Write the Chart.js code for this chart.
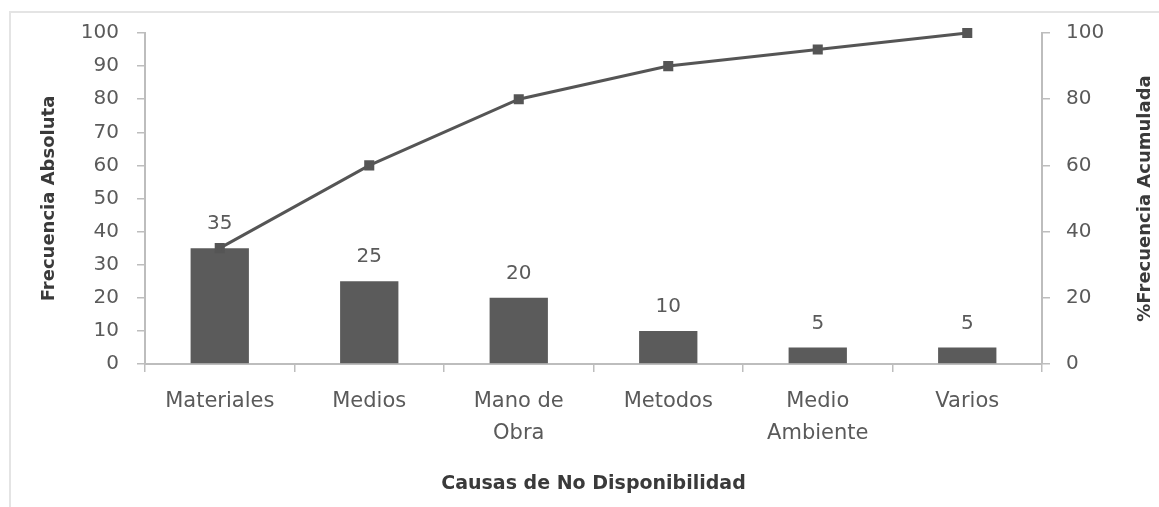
<!DOCTYPE html>
<html>
<head>
<meta charset="utf-8">
<script src="https://cdn.jsdelivr.net/npm/chart.js@4.4.1/dist/chart.umd.min.js"></script>
<style>
html,body{margin:0;padding:0;background:#fff;}
#wrap{position:relative;width:1159px;height:507px;overflow:hidden;}
#frame{position:absolute;left:9px;top:11px;width:1200px;height:600px;border-top:2px solid #e4e4e4;border-left:2px solid #e4e4e4;}
canvas{position:absolute;left:0;top:0;}
</style>
</head>
<body>
<div id="wrap"><div id="frame"></div><canvas id="c" width="1159" height="507"></canvas></div>
<script>
const categories = ["Materiales", "Medios", ["Mano de", "Obra"], "Metodos", ["Medio", "Ambiente"], "Varios"];
const frecuenciaAbsoluta = [35, 25, 20, 10, 5, 5];
const frecuenciaAcumulada = [35, 60, 80, 90, 95, 100];
const leftTicks = [0, 10, 20, 30, 40, 50, 60, 70, 80, 90, 100];
const rightTicks = [0, 20, 40, 60, 80, 100];
const rightTitle = '%Frecuencia Acumulada';

const FONT = "'DejaVu Sans', sans-serif";
const TXT = '#5a5a5a';
const TITLE = '#3a3a3a';
const AXIS = '#bdbdbd';

const extras = {
  id: 'extras',
  afterDatasetsDraw(chart) {
    const ctx = chart.ctx;
    const idx = chart.data.datasets.findIndex(d => d.type === 'bar');
    const meta = chart.getDatasetMeta(idx);
    ctx.save();
    ctx.font = '20px ' + FONT;
    ctx.fillStyle = TXT;
    ctx.textAlign = 'center';
    ctx.textBaseline = 'middle';
    meta.data.forEach((el, i) => {
      ctx.fillText(String(chart.data.datasets[idx].data[i]), el.x, el.y - 24);
    });
    ctx.restore();
  },
  afterDraw(chart) {
    const ctx = chart.ctx;
    const s = chart.scales.y1;
    const a = chart.chartArea;
    ctx.save();
    ctx.translate(s.right - 14, (a.top + a.bottom) / 2);
    ctx.rotate(-Math.PI / 2);
    ctx.font = 'bold 18px ' + FONT;
    ctx.fillStyle = TITLE;
    ctx.textAlign = 'center';
    ctx.textBaseline = 'middle';
    ctx.fillText(rightTitle, 0, 0);
    ctx.restore();
  }
};

new Chart(document.getElementById('c'), {
  data: {
    labels: categories,
    datasets: [
      {
        type: 'line',
        label: rightTitle,
        data: frecuenciaAcumulada,
        yAxisID: 'y1',
        borderColor: '#555555',
        backgroundColor: '#555555',
        borderWidth: 3,
        pointStyle: 'rect',
        pointRadius: 5,
        pointHoverRadius: 5,
        tension: 0,
        clip: false,
        order: 0
      },
      {
        type: 'bar',
        label: 'Frecuencia Absoluta',
        data: frecuenciaAbsoluta,
        yAxisID: 'y',
        backgroundColor: '#5b5b5b',
        categoryPercentage: 1.0,
        barPercentage: 0.39,
        order: 1
      }
    ]
  },
  options: {
    responsive: false,
    animation: false,
    devicePixelRatio: 1,
    layout: { padding: { left: 35, right: 0, top: 33, bottom: 8 } },
    plugins: { legend: { display: false }, tooltip: { enabled: false } },
    scales: {
      x: {
        type: 'category',
        offset: true,
        border: { color: AXIS, width: 2 },
        grid: { display: true, drawOnChartArea: false, offset: true, color: AXIS, tickLength: 8, lineWidth: 1.5 },
        ticks: { color: TXT, font: { family: FONT, size: 21, lineHeight: 1.55 }, padding: 13, maxRotation: 0, autoSkip: false },
        title: { display: true, text: 'Causas de No Disponibilidad', color: TITLE, font: { family: FONT, size: 19, weight: 'bold' }, padding: { top: 4, bottom: 4 } },
        afterFit(s) { s.height = 135; }
      },
      y: {
        position: 'left',
        min: 0, max: 100,
        afterBuildTicks(s) { s.ticks = leftTicks.map(v => ({ value: v })); },
        border: { color: AXIS, width: 2 },
        grid: { display: true, drawOnChartArea: false, color: AXIS, tickLength: 8, lineWidth: 1.5 },
        ticks: { color: TXT, font: { family: FONT, size: 20 }, padding: 18 },
        title: { display: true, text: 'Frecuencia Absoluta', color: TITLE, font: { family: FONT, size: 18, weight: 'bold' }, padding: { top: 4, bottom: 4 } },
        afterFit(s) { s.width = 110; }
      },
      y1: {
        position: 'right',
        min: 0, max: 100,
        afterBuildTicks(s) { s.ticks = rightTicks.map(v => ({ value: v })); },
        border: { color: AXIS, width: 2 },
        grid: { display: true, drawOnChartArea: false, color: AXIS, tickLength: 8, lineWidth: 1.5 },
        ticks: { color: TXT, font: { family: FONT, size: 20 }, padding: 16 },
        title: { display: false },
        afterFit(s) { s.width = 117; }
      }
    }
  },
  plugins: [extras]
});
</script>
</body>
</html>
